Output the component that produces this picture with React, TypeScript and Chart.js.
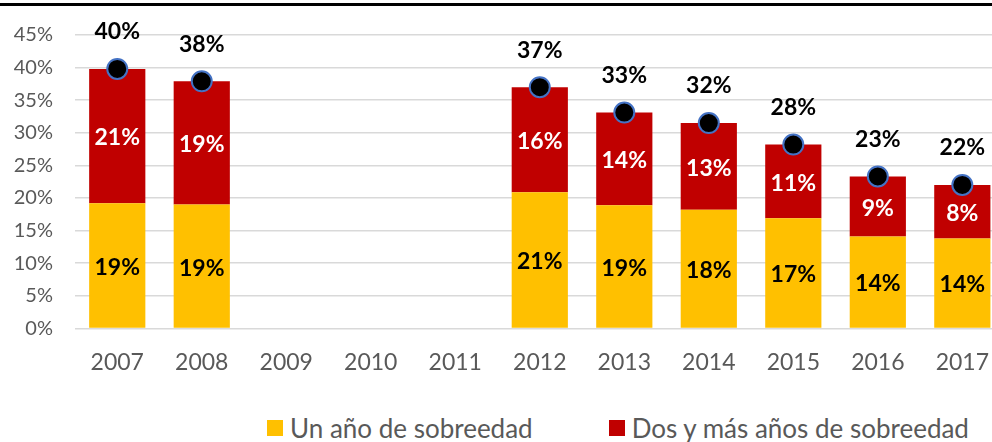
import React, { useEffect, useRef } from "react";
import { Chart, registerables } from "chart.js";
Chart.register(...registerables);

const years = ["2007", "2008", "2009", "2010", "2011", "2012", "2013", "2014", "2015", "2016", "2017"];
const unAno = [19.2, 19.0, null, null, null, 20.9, 18.9, 18.2, 16.9, 14.1, 13.8];
const dosMas = [20.6, 18.9, null, null, null, 16.1, 14.2, 13.3, 11.3, 9.2, 8.2];
const total = [39.8, 37.9, null, null, null, 37.0, 33.1, 31.5, 28.2, 23.3, 22.0];
const seriesLabels = ["Un año de sobreedad", "Dos y más años de sobreedad"];
const seriesColors = ["#FFC000", "#C00000"];
const labelColors = ["#000000", "#FFFFFF", "#000000"];
const FONT = "Lato, 'Open Sans', sans-serif";

const labelPlugin = {
  id: "valueLabels",
  afterDatasetsDraw(chart: any) {
    const ctx = chart.ctx;
    ctx.save();
    ctx.font = `bold 23px ${FONT}`;
    ctx.textAlign = "center";
    ctx.textBaseline = "middle";
    chart.data.datasets.forEach((ds: any, di: number) => {
      const meta = chart.getDatasetMeta(di);
      meta.data.forEach((el: any, i: number) => {
        const v = ds.data[i];
        if (v == null) return;
        ctx.fillStyle = labelColors[di];
        const txt = Math.round(v) + "%";
        if (meta.type === "bar") {
          ctx.fillText(txt, el.x, (el.y + el.base) / 2 + 2);
        } else {
          ctx.fillText(txt, el.x, el.y - 37);
        }
      });
    });
    ctx.restore();
  },
};

function App() {
  const ref = useRef<HTMLCanvasElement>(null);
  useEffect(() => {
    document.body.style.margin = "0";
    document.body.style.overflow = "hidden";
    document.documentElement.style.overflow = "hidden";
    const chart = new Chart(ref.current!, {
      type: "bar",
      data: {
        labels: years,
        datasets: [
          {
            type: "bar",
            label: seriesLabels[0],
            data: unAno,
            backgroundColor: seriesColors[0],
            stack: "bars",
            order: 1,
            categoryPercentage: 1,
            barPercentage: 0.665,
          } as any,
          {
            type: "bar",
            label: seriesLabels[1],
            data: dosMas,
            backgroundColor: seriesColors[1],
            stack: "bars",
            order: 1,
            categoryPercentage: 1,
            barPercentage: 0.665,
          } as any,
          {
            type: "line",
            label: "Total",
            data: total,
            showLine: false,
            stack: "total",
            order: 0,
            pointRadius: 10,
            pointBackgroundColor: "#000000",
            pointBorderColor: "#4472C4",
            pointBorderWidth: 2,
          } as any,
        ],
      },
      options: {
        responsive: false,
        animation: false,
        devicePixelRatio: 1,
        layout: { autoPadding: false, padding: { top: 35, right: 0, left: 0, bottom: 0 } },
        plugins: { legend: { display: false }, tooltip: { enabled: false } },
        scales: {
          x: {
            stacked: true,
            grid: { display: false, drawTicks: false },
            border: { display: false },
            ticks: { color: "#595959", font: { family: FONT, size: 23 }, padding: 20, maxRotation: 0 },
          },
          y: {
            stacked: true,
            min: 0,
            max: 45,
            grid: { color: "#D9D9D9", lineWidth: 1.5, drawTicks: false },
            border: { display: false },
            afterFit: (s: any) => { s.width = 75; },
            ticks: {
              stepSize: 5,
              color: "#595959",
              padding: 22,
              font: { family: FONT, size: 20 },
              callback: (v: any) => v + "%",
            },
          },
        },
      },
      plugins: [labelPlugin],
    });
    return () => chart.destroy();
  }, []);

  return (
    <div style={{ position: "relative", width: 1009, height: 442, background: "#fff" }}>
      <div style={{ position: "absolute", left: 0, top: 3, width: 1009, height: 3, background: "#000" }} />
      <canvas ref={ref} width={1009} height={396} style={{ position: "absolute", left: 0, top: 0 }} />
      <div
        style={{
          position: "absolute",
          left: 267,
          top: 413,
          display: "flex",
          alignItems: "center",
          fontFamily: FONT,
          fontSize: 26,
          lineHeight: "30px",
          color: "#595959",
          whiteSpace: "nowrap",
        }}
      >
        {seriesLabels.map((l, i) => (
          <div key={l} style={{ display: "flex", alignItems: "center", marginRight: i === 0 ? 76 : 0 }}>
            <span style={{ display: "inline-block", width: 16, height: 16, background: seriesColors[i], marginRight: 7 }} />
            <span>{l}</span>
          </div>
        ))}
      </div>
    </div>
  );
}

export default App;
